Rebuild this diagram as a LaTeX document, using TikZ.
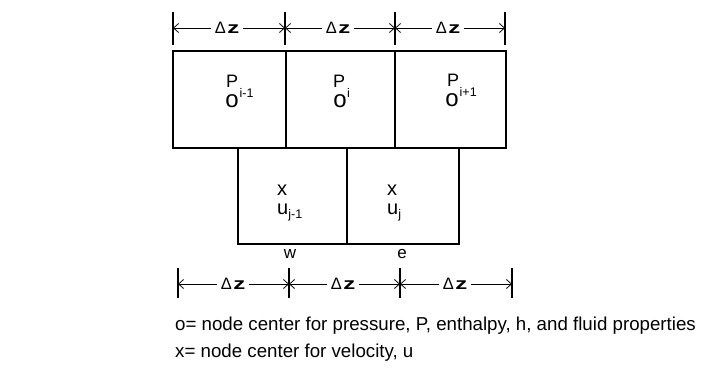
\documentclass[tikz,border=0pt]{standalone}
\usepackage{fontspec}
\setmainfont{Liberation Sans}
\usetikzlibrary{arrows.meta}
\newcommand{\fsz}[1]{\fontsize{#1}{#1}\selectfont}
\newcommand{\dz}{Δ\hspace{1.5pt}\scalebox{1.45}[1]{\textbf{z}}}
\begin{document}
\begin{tikzpicture}[x=1pt,y=-1pt,
  cellbox/.style={draw, line width=1.3pt},
  tickline/.style={line width=1.4pt},
  dimarrow/.style={line width=0.75pt, -{Straight Barb[length=5pt,width=9pt,line width=0.75pt]}},
  dimlabel/.style={inner sep=4pt, font=\fsz{16.5}},
  lab/.style={inner sep=0pt, anchor=base west},
  glyph/.style={inner sep=0pt},
]
\useasboundingbox (0,0) rectangle (705,372);

% pressure cells
\draw[cellbox] (173,51) rectangle (286,148);
\draw[cellbox] (286,51) rectangle (395,148);
\draw[cellbox] (395,51) rectangle (506,148);
% velocity cells
\draw[cellbox] (238,148) rectangle (347,244);
\draw[cellbox] (347,148) rectangle (459,244);

% pressure labels
\node[lab, font=\fsz{18}] (P1) at (226,87) {P};
\node[lab, font=\fsz{12.5}] (s1) at (239.5,97) {i-1};
\node[glyph, font=\fsz{24}] (o1) at (232,101) {o};
\node[lab, font=\fsz{18}] (P2) at (333,87) {P};
\node[lab, font=\fsz{12.5}] (s2) at (347,97) {i};
\node[glyph, font=\fsz{24}] (o2) at (340,101) {o};
\node[lab, font=\fsz{18}] (P3) at (447,86) {P};
\node[lab, font=\fsz{12.5}] (s3) at (459.5,96) {i+1};
\node[glyph, font=\fsz{24}] (o3) at (452,100) {o};

% velocity labels
\node[glyph, font=\fsz{20}] (x1) at (282,190) {x};
\node[lab, font=\fsz{20}] (u1) at (277,214) {u\raisebox{-4pt}{\fsz{12.5}j-1}};
\node[glyph, font=\fsz{20}] (x2) at (392,190) {x};
\node[lab, font=\fsz{20}] (u2) at (387,214) {u\raisebox{-4pt}{\fsz{12.5}j}};

% face labels
\node[font=\fsz{17}, anchor=base, inner sep=0pt] (w) at (290,258) {w};
\node[font=\fsz{17}, anchor=base, inner sep=0pt] (e) at (402,258) {e};

% top dimension line
\foreach \i/\x in {0/173,1/285,2/395,3/505}{
  \draw[tickline] (\x,12) -- (\x,45);
  \coordinate (ta\i) at (\x,28);
}
\node[dimlabel] (da1) at (227,28) {\dz};
\node[dimlabel] (da2) at (338,28) {\dz};
\node[dimlabel] (da3) at (448,28) {\dz};
\draw[dimarrow] (da1.west) -- (ta0);
\draw[dimarrow] (da1.east) -- (ta1);
\draw[dimarrow] (da2.west) -- (ta1);
\draw[dimarrow] (da2.east) -- (ta2);
\draw[dimarrow] (da3.west) -- (ta2);
\draw[dimarrow] (da3.east) -- (ta3);

% bottom dimension line
\foreach \i/\x in {0/178,1/289,2/400,3/512}{
  \draw[tickline] (\x,268) -- (\x,298);
  \coordinate (tb\i) at (\x,284);
}
\node[dimlabel] (db1) at (233,284) {\dz};
\node[dimlabel] (db2) at (343,284) {\dz};
\node[dimlabel] (db3) at (455,284) {\dz};
\draw[dimarrow] (db1.west) -- (tb0);
\draw[dimarrow] (db1.east) -- (tb1);
\draw[dimarrow] (db2.west) -- (tb1);
\draw[dimarrow] (db2.east) -- (tb2);
\draw[dimarrow] (db3.west) -- (tb2);
\draw[dimarrow] (db3.east) -- (tb3);

% legend
\node[lab, font=\fsz{18.7}] (l1) at (175,330) {o= node center for pressure, P, enthalpy, h, and fluid properties};
\node[lab, font=\fsz{18.7}] (l2) at (175,357) {x= node center for velocity, u};
\end{tikzpicture}
\end{document}
